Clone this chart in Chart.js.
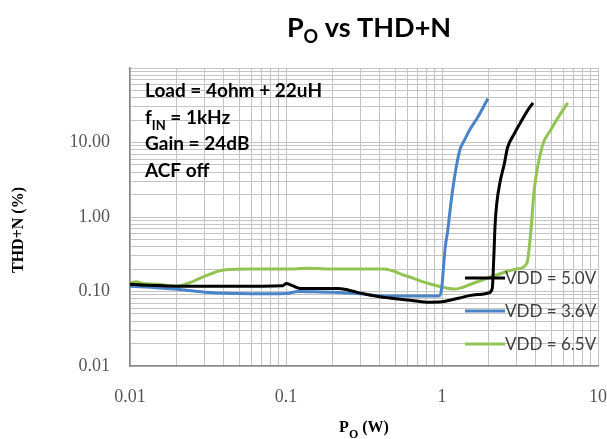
<!DOCTYPE html>
<html>
<head>
<meta charset="utf-8">
<script src="https://cdn.jsdelivr.net/npm/chart.js@4/dist/chart.umd.min.js"></script>
<style>
  body { margin: 0; background: #fff; }
  #wrap { width: 607px; height: 439px; }
</style>
</head>
<body>
<div id="wrap"><canvas id="thd" width="607" height="439"></canvas></div>
<script>
// P_O (W) / THD+N (%) readings per supply voltage
var vdd50X = [0.01, 0.012, 0.015, 0.02, 0.03, 0.05, 0.07, 0.095, 0.1, 0.11, 0.123, 0.165, 0.212, 0.25, 0.3, 0.4, 0.46, 0.6, 0.8, 1.0, 1.08, 1.3, 1.5, 1.8, 2.0, 2.1, 2.15, 2.19, 2.25, 2.36, 2.5, 2.63, 2.9, 3.16, 3.5, 3.83];
var vdd50Y = [0.125, 0.122, 0.12, 0.118, 0.118, 0.118, 0.118, 0.119, 0.128, 0.12, 0.11, 0.11, 0.11, 0.105, 0.095, 0.085, 0.082, 0.077, 0.072, 0.073, 0.075, 0.082, 0.088, 0.092, 0.096, 0.11, 0.3, 0.8, 1.6, 3, 5, 8.5, 13, 18, 26, 34];

var vdd36X = [0.01, 0.013, 0.017, 0.02, 0.03, 0.05, 0.07, 0.1, 0.12, 0.15, 0.2, 0.3, 0.4, 0.6, 0.8, 0.97, 1.0, 1.02, 1.05, 1.09, 1.13, 1.17, 1.23, 1.3, 1.4, 1.51, 1.7, 1.97];
var vdd36Y = [0.118, 0.115, 0.11, 0.107, 0.098, 0.094, 0.093, 0.094, 0.1, 0.099, 0.098, 0.093, 0.088, 0.087, 0.087, 0.088, 0.12, 0.2, 0.4, 0.67, 1.3, 2.3, 4.5, 7.9, 11, 15, 22, 39];

var vdd65X = [0.01, 0.011, 0.012, 0.015, 0.02, 0.025, 0.03, 0.04, 0.06, 0.1, 0.14, 0.2, 0.3, 0.42, 0.6, 0.8, 1.0, 1.2, 1.6, 2.2, 3.0, 3.5, 3.7, 3.9, 4.4, 5.0, 5.8, 6.4];
var vdd65Y = [0.13, 0.135, 0.128, 0.125, 0.118, 0.135, 0.16, 0.195, 0.2, 0.2, 0.205, 0.2, 0.2, 0.2, 0.16, 0.13, 0.115, 0.108, 0.13, 0.165, 0.2, 0.24, 0.6, 2.3, 9, 15, 25, 34];

var seriesNames = ['VDD = 5.0V', 'VDD = 3.6V', 'VDD = 6.5V'];
var seriesColors = ['#000000', '#4a84c8', '#92c353'];

var xDecades = [0.01, 0.1, 1];
var yDecades = [0.01, 0.1, 1, 10];
var xTickLabels = ['0.01', '0.1', '1', '10'];
var yTickLabels = ['0.01', '0.10', '1.00', '10.00'];
var notes = ['Load = 4ohm + 22uH', 'f|IN| = 1kHz', 'Gain = 24dB', 'ACF off'];

function pts(xs, ys) {
  return xs.map(function (x, i) { return { x: x, y: ys[i] }; });
}

function logTicks(decades) {
  var out = [];
  decades.forEach(function (d) {
    for (var k = 1; k < 10; k++) out.push({ value: +(d * k).toPrecision(3) });
  });
  out.push({ value: decades[decades.length - 1] * 10 });
  return out;
}

function isDecade(v) {
  var l = Math.log10(v);
  return Math.abs(l - Math.round(l)) < 1e-6;
}

// draws "text|sub|more" with the middle part as subscript
function drawSub(ctx, str, x, y, font, subFont, align) {
  var parts = str.split('|');
  var widths = parts.map(function (p, i) {
    ctx.font = i % 2 ? subFont : font;
    return ctx.measureText(p).width;
  });
  var total = widths.reduce(function (a, b) { return a + b; }, 0);
  var cx = align === 'center' ? x - total / 2 : x;
  ctx.textAlign = 'left';
  parts.forEach(function (p, i) {
    ctx.font = i % 2 ? subFont : font;
    ctx.fillText(p, cx, i % 2 ? y + 6 : y);
    cx += widths[i];
  });
}

var textPlugin = {
  id: 'texts',
  afterDraw: function (chart) {
    var ctx = chart.ctx;
    ctx.save();
    ctx.fillStyle = '#000';
    ctx.textBaseline = 'alphabetic';

    drawSub(ctx, 'P|O| vs THD+N', 369, 37, 'bold 27px Lato', 'bold 18px Lato', 'center');

    // axis titles
    drawSub(ctx, 'P|O| (W)', 364, 432, 'bold 16px "Liberation Serif"', 'bold 12px "Liberation Serif"', 'center');
    ctx.save();
    ctx.translate(23, 230);
    ctx.rotate(-Math.PI / 2);
    ctx.font = 'bold 16px "Liberation Serif"';
    ctx.textAlign = 'center';
    ctx.fillText('THD+N (%)', 0, 0);
    ctx.restore();

    // condition notes
    notes.forEach(function (n, i) {
      drawSub(ctx, n, 145, 97 + i * 26.7, 'bold 19px Lato', 'bold 13px Lato', 'left');
    });

    // legend inside the plot
    var rows = [278, 311, 344];
    seriesNames.forEach(function (name, i) {
      ctx.strokeStyle = seriesColors[i];
      ctx.lineWidth = 3;
      ctx.beginPath();
      ctx.moveTo(465, rows[i]);
      ctx.lineTo(505, rows[i]);
      ctx.stroke();
      ctx.fillStyle = '#404040';
      ctx.font = '17px Lato';
      ctx.textBaseline = 'middle';
      ctx.textAlign = 'left';
      ctx.fillText(name, 505, rows[i] + 1);
    });
    ctx.restore();
  }
};

new Chart(document.getElementById('thd').getContext('2d'), {
  type: 'scatter',
  data: {
    datasets: [
      { label: seriesNames[0], data: pts(vdd50X, vdd50Y) },
      { label: seriesNames[1], data: pts(vdd36X, vdd36Y) },
      { label: seriesNames[2], data: pts(vdd65X, vdd65Y) }
    ].map(function (d, i) {
      d.showLine = true;
      d.borderColor = seriesColors[i];
      d.backgroundColor = seriesColors[i];
      d.borderWidth = 3;
      d.pointRadius = 0;
      d.tension = 0.3;
      d.cubicInterpolationMode = 'monotone';
      return d;
    })
  },
  options: {
    responsive: false,
    animation: false,
    layout: { padding: { top: 68, right: 9, left: 0, bottom: 0 } },
    plugins: {
      legend: { display: false },
      tooltip: { enabled: false }
    },
    scales: {
      x: {
        type: 'logarithmic',
        min: 0.01,
        max: 10,
        afterBuildTicks: function (scale) { scale.ticks = logTicks(xDecades); },
        afterFit: function (scale) {
          scale.height = 73;
          scale.paddingLeft = 0;
          scale.paddingRight = 0;
        },
        grid: { color: '#c4c4c4', drawTicks: false },
        border: { color: '#8a8a8a', width: 1.5 },
        ticks: {
          autoSkip: false,
          maxRotation: 0,
          padding: 20,
          color: '#555',
          font: { family: 'Liberation Serif', size: 18 },
          callback: function (v) {
            if (!isDecade(v)) return '';
            return xTickLabels[Math.round(Math.log10(v)) + 2];
          }
        }
      },
      y: {
        type: 'logarithmic',
        min: 0.01,
        max: 100,
        afterBuildTicks: function (scale) { scale.ticks = logTicks(yDecades); },
        afterFit: function (scale) {
          scale.width = 130;
          scale.paddingTop = 0;
          scale.paddingBottom = 0;
        },
        grid: { color: '#c4c4c4', drawTicks: false },
        border: { color: '#8a8a8a', width: 1.5 },
        ticks: {
          autoSkip: false,
          padding: 20,
          color: '#555',
          font: { family: 'Liberation Serif', size: 18 },
          callback: function (v) {
            if (!isDecade(v)) return '';
            var lbl = yTickLabels[Math.round(Math.log10(v)) + 2];
            return lbl === undefined ? '' : lbl;
          }
        }
      }
    }
  },
  plugins: [textPlugin]
});
</script>
</body>
</html>
